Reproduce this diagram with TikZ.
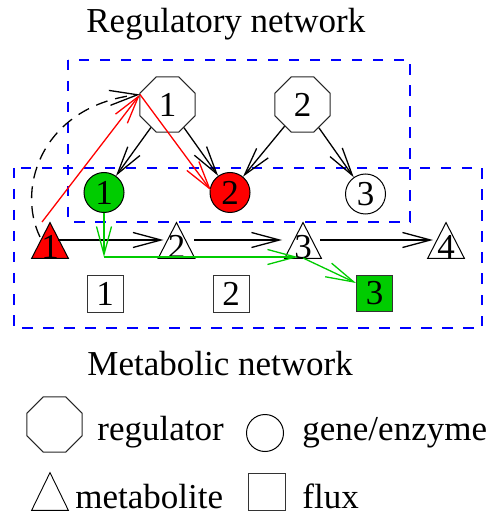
\documentclass[tikz,border=0pt]{standalone}
\usepackage{fontspec}
\setmainfont{Liberation Serif}
\newfontfamily\labelfont{Liberation Serif}
\usetikzlibrary{arrows.meta,shapes.geometric,calc}
\definecolor{xgreen}{RGB}{0,204,0}
\definecolor{xred}{RGB}{255,0,0}
\definecolor{xblue}{RGB}{0,0,255}
\begin{document}
\begin{tikzpicture}[x=0.5pt,y=-0.5pt,
  every node/.style={font=\labelfont\fontsize{17.5}{21}\selectfont},
  regbox/.style={regular polygon,regular polygon sides=8,minimum size=29.8pt,
    inner sep=0pt,draw=black!85,line width=0.5pt},
  genebox/.style={circle,minimum size=20pt,inner sep=0pt,draw=black,line width=0.5pt},
  fluxbox/.style={rectangle,minimum size=18pt,inner sep=0pt,draw=black!80,line width=0.5pt},
  metabox/.style={rectangle,minimum width=18pt,minimum height=17.5pt,inner sep=0pt},
  tribox/.style={draw=black,line width=0.5pt,line join=miter},
  netframe/.style={draw=xblue,line width=0.85pt,dash pattern=on 5.25pt off 5.25pt},
  barb/.style={-{Straight Barb[length=14pt,width=7.5pt]},line width=0.65pt},
  blackarr/.style={barb,draw=black},
  redarr/.style={barb,draw=xred},
  greenarr/.style={barb,draw=xgreen},
  dashedarr/.style={barb,draw=black,dash pattern=on 6pt off 4pt}]
\useasboundingbox (0,0) rectangle (492,512);

% network frames
\draw[netframe] (68,60) rectangle (410,222);
\draw[netframe] (14,168) rectangle (482,328);

% titles
\node[anchor=base west,inner sep=0pt] (regtitle) at (86,33) {Regulatory network};
\node[anchor=base west,inner sep=0pt] (mettitle) at (87,375) {Metabolic network};

% regulators
\node[regbox] (r1) at (167.5,104.5) {1};
\node[regbox] (r2) at (302.5,104.5) {2};

% genes / enzymes
\node[genebox,fill=xgreen] (g1) at (104,192.5) {1};
\node[genebox,fill=xred]   (g2) at (230,192.5) {2};
\node[genebox]             (g3) at (365.5,194) {3};

% metabolites
\node[metabox] (m1) at (50,240.5) {};
\node[metabox] (m2) at (176.5,240.5) {};
\node[metabox] (m3) at (303,240.5) {};
\node[metabox] (m4) at (446,240.5) {};
\draw[tribox,fill=xred] (m1.south west) -- (m1.north) -- (m1.south east) -- cycle;
\foreach \m in {m2,m3,m4}
  \draw[tribox] (\m.south west) -- (\m.north) -- (\m.south east) -- cycle;
\node[anchor=base,inner sep=0pt] (m1t) at (m1.south) {1};
\node[anchor=base,inner sep=0pt] (m2t) at (m2.south) {2};
\node[anchor=base,inner sep=0pt] (m3t) at (m3.south) {3};
\node[anchor=base,inner sep=0pt] (m4t) at (m4.south) {4};

% fluxes
\node[fluxbox] (f1) at (105,294) {1};
\node[fluxbox] (f2) at (231,294) {2};
\node[fluxbox,fill=xgreen] (f3) at (374.5,293.5) {3};

% regulation
\coordinate (hub) at ($(r1)+(-27.5,-10)$);
\draw[blackarr] (r1) -- (g1);
\draw[blackarr] (r1) -- (g2);
\draw[blackarr] (r2) -- (g2);
\draw[blackarr] (r2) -- (g3);
\draw[redarr] ($(m1)+(-8,-18.5)$) -- (hub);
\draw[redarr] (hub) -- ($(g2)+(-19,-2)$);
\draw[dashedarr] ($(m1)+(-10,-3.5)$) .. controls (15,185) and (45,105) .. (hub);

% reactions
\draw[blackarr] ($(m1)+(8,-0.5)$) -- ($(m2)+(-13,-0.5)$);
\draw[blackarr] ($(m2)+(17.5,-0.5)$) -- ($(m3)+(-21,-0.5)$);
\draw[blackarr] ($(m3)+(17,-0.5)$) -- ($(m4)+(-13,-0.5)$);

% active pathway
\coordinate (gj) at (104,257);
\draw[greenarr] (g1) -- (gj);
\draw[greenarr] (gj) -- ($(m3)+(-5,16.5)$);
\draw[greenarr] ($(m3)+(0,17.5)$) -- ($(f3.west)+(0,-10.5)$);

% legend
\node[regbox] (lr) at (54.5,424.5) {};
\node[anchor=base west,inner sep=0pt] (lrt) at (97,440) {regulator};
\node[genebox,minimum size=18.5pt] (lg) at (265,433) {};
\node[anchor=base west,inner sep=0pt] (lgt) at (302,440) {gene/enzyme};
\node[metabox,minimum height=18.5pt] (lm) at (50,491.5) {};
\draw[tribox,line width=0.45pt] (lm.south west) -- (lm.north) -- (lm.south east) -- cycle;
\node[anchor=base west,inner sep=0pt] (lmt) at (75,508) {metabolite};
\node[fluxbox,minimum size=18.5pt] (lf) at (266.5,491.5) {};
\node[anchor=base west,inner sep=0pt] (lft) at (302,508) {flux};
\end{tikzpicture}
\end{document}
